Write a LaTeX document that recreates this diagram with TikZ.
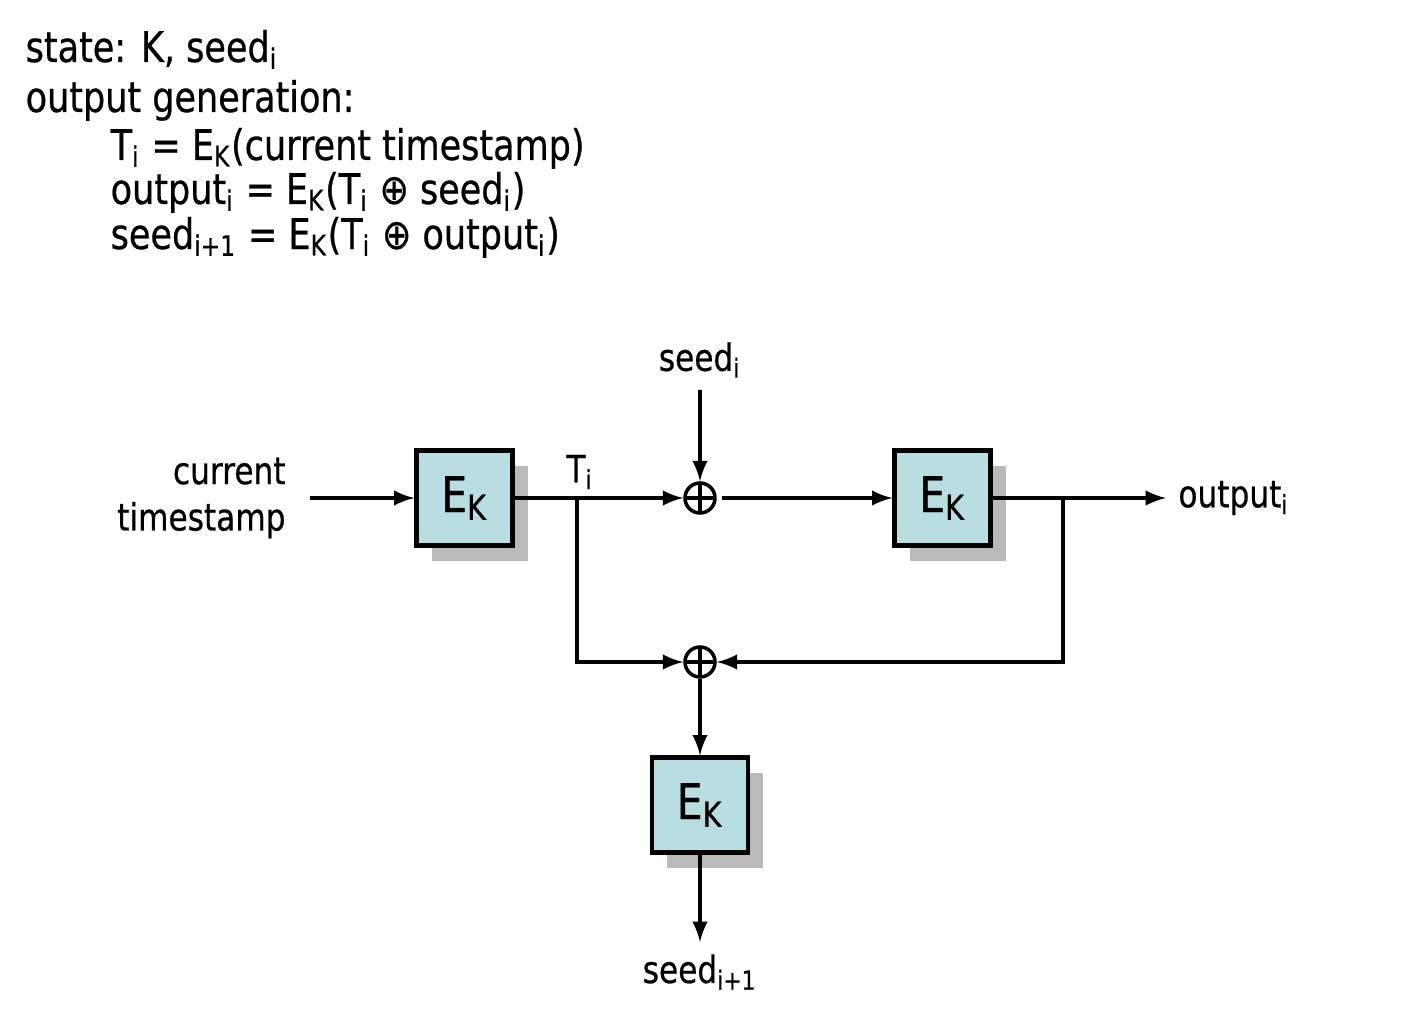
\documentclass[tikz,border=0pt]{standalone}
\usepackage{fontspec}
\usepackage{amsmath}
\setmainfont[FakeStretch=0.83, FakeBold=0.6]{DejaVu Sans}
\usetikzlibrary{positioning, arrows, shadows}
\definecolor{boxcyan}{RGB}{185,222,226}
\newcommand{\idx}[1]{$_{\text{#1}}$}
\tikzstyle{arrow} = [line width=1pt,->,>=latex]
\tikzstyle{cipher} = [rectangle, minimum width=0.96cm, minimum height=0.95cm, inner sep=0pt, draw=black, line width=1.2pt, fill=boxcyan, font=\fontsize{14}{16}\selectfont, drop shadow={shadow xshift=0.15cm, shadow yshift=-0.15cm, fill=gray!55, opacity=1}]
\tikzstyle{xor} = [circle, draw=black, line width=1pt, minimum size=0.3cm, inner sep=0pt, path picture={\draw [line width=1pt] (path picture bounding box.north) -- (path picture bounding box.south) (path picture bounding box.west) -- (path picture bounding box.east);}]
\tikzstyle{tag} = [font=\fontsize{10.7}{13.2}\selectfont]
\tikzstyle{headline} = [anchor=base west, inner sep=0pt, font=\fontsize{12}{13}\selectfont]

\begin{document}
\begin{tikzpicture}[node distance=2.4cm]
            \useasboundingbox (0,0) rectangle (14.14,-10.28);

            % header
            \node (state) [headline] at (0.25,-0.62) {state: K, seed\idx{i}};
            \node (gen) [headline] at (0.25,-1.12) {output generation:};
            \node (eq1) [headline] at (1.10,-1.60) {T\idx{i} = E\idx{K}(current timestamp)};
            \node (eq2) [headline] at (1.10,-2.04) {output\idx{i} = E\idx{K}(T\idx{i} ⊕ seed\idx{i})};
            \node (eq3) [headline] at (1.10,-2.49) {seed\idx{i+1} = E\idx{K}(T\idx{i} ⊕ output\idx{i})};

            % diagram
            \node (ek1) [cipher] at (4.645,-4.98) {E\idx{K}};
            \node (xor1) [xor, right of=ek1, xshift=-0.045cm] {};
            \node (ek2) [cipher, right of=xor1, xshift=0.025cm] {E\idx{K}};
            \node (xor2) [xor, below of=xor1, yshift=0.76cm] {};
            \node (ek3) [cipher, below of=xor2, yshift=0.97cm] {E\idx{K}};

            \node (ts) [tag, anchor=east, align=right] at (2.98,-4.98) {current\\timestamp};
            \node (seedin) [tag, anchor=south] at (7.00,-3.90) {seed\idx{i}};
            \node (out) [tag, anchor=west] at (11.66,-4.98) {output\idx{i}};
            \node (seedout) [tag, anchor=north] at (7.00,-9.42) {seed\idx{i+1}};
            \node (ti) [tag] at (5.80,-4.72) {T\idx{i}};
            \coordinate (tap1) at (5.77,-4.98);
            \coordinate (tap2) at (10.63,-4.98);

            \draw [arrow, shorten <=0.12cm] (ts) -- (ek1);
            \draw [arrow] (ek1) -- (xor1);
            \draw [arrow] (seedin) -- (xor1);
            \draw [arrow, shorten <=0.05cm] (xor1) -- (ek2);
            \draw [arrow] (ek2) -- (out);
            \draw [arrow] (tap1) |- (xor2);
            \draw [arrow] (tap2) |- (xor2);
            \draw [arrow] (xor2) -- (ek3);
            \draw [arrow] (ek3) -- (seedout);

        \end{tikzpicture}
\end{document}
